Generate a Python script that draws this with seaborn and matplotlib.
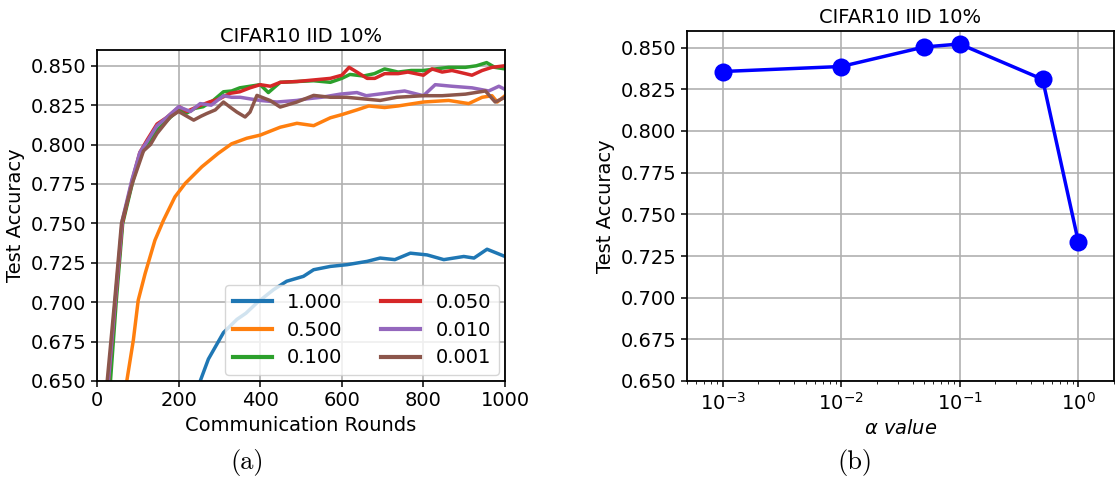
import matplotlib
matplotlib.use("Agg")
import matplotlib.pyplot as plt
import matplotlib.ticker as mticker
import pandas as pd
import seaborn as sns

# ---- accuracy curves per alpha (communication round, test accuracy) ----
alpha_labels = ["1.000", "0.500", "0.100", "0.050", "0.010", "0.001"]
line_colors = ["#1f77b4", "#ff7f0e", "#2ca02c", "#d62728", "#9467bd", "#8c564b"]

rounds_a1000 = [0, 200, 253, 273, 310, 343, 365, 392, 433, 465, 506, 531, 572, 613,
                662, 694, 730, 768, 809, 850, 899, 924, 956, 981, 1000]
acc_a1000 = [0.300, 0.600, 0.650, 0.6639, 0.6807, 0.6891, 0.6930, 0.6996, 0.7080, 0.7133,
             0.7164, 0.7206, 0.7227, 0.7238, 0.7259, 0.7280, 0.7270, 0.7311, 0.7300,
             0.7270, 0.7290, 0.7280, 0.7336, 0.7310, 0.7290]

rounds_a0500 = [0, 40, 60, 73, 89, 101, 118, 142, 163, 191, 216, 257, 297, 330, 367,
                400, 449, 490, 531, 572, 600, 637, 666, 705, 738, 800, 862, 911, 944,
                968, 981, 1000]
acc_a0500 = [0.300, 0.500, 0.600, 0.650, 0.6758, 0.7012, 0.7182, 0.7393, 0.7520, 0.7668,
             0.7753, 0.7859, 0.7944, 0.8005, 0.8040, 0.8060, 0.8110, 0.8135, 0.8120,
             0.8170, 0.8190, 0.8220, 0.8245, 0.8235, 0.8245, 0.8270, 0.8280, 0.8260,
             0.8300, 0.8310, 0.8270, 0.8310]

rounds_a0100 = [0, 15, 33, 47, 63, 88, 106, 126, 147, 170, 200, 220, 240, 260, 285,
                310, 330, 350, 375, 400, 420, 449, 490, 531, 572, 600, 620, 653, 680,
                705, 738, 770, 800, 830, 862, 903, 930, 955, 975, 1000]
acc_a0100 = [0.480, 0.580, 0.650, 0.700, 0.750, 0.777, 0.793, 0.801, 0.809, 0.815,
             0.822, 0.820, 0.823, 0.824, 0.828, 0.8335, 0.834, 0.836, 0.837, 0.838,
             0.833, 0.8395, 0.840, 0.8405, 0.8395, 0.842, 0.8445, 0.8435, 0.845,
             0.848, 0.846, 0.847, 0.847, 0.848, 0.849, 0.849, 0.850, 0.852, 0.849, 0.848]

rounds_a0050 = [0, 15, 28, 45, 62, 86, 105, 123, 147, 170, 202, 220, 237, 255, 275,
                300, 326, 350, 375, 400, 425, 449, 490, 531, 572, 600, 618, 637, 662,
                681, 705, 738, 762, 800, 821, 846, 870, 903, 919, 944, 968, 1000]
acc_a0050 = [0.500, 0.600, 0.650, 0.700, 0.750, 0.777, 0.795, 0.803, 0.813, 0.817,
             0.824, 0.821, 0.823, 0.825, 0.827, 0.829, 0.8325, 0.8335, 0.836, 0.838,
             0.837, 0.8395, 0.840, 0.841, 0.842, 0.844, 0.849, 0.846, 0.842, 0.842,
             0.845, 0.845, 0.846, 0.844, 0.848, 0.846, 0.847, 0.845, 0.844, 0.847,
             0.849, 0.850]

rounds_a0010 = [0, 15, 28, 45, 62, 86, 105, 123, 147, 170, 200, 229, 253, 280, 310,
                330, 351, 375, 400, 441, 490, 514, 550, 596, 637, 660, 705, 754, 800,
                829, 870, 919, 960, 985, 1000]
acc_a0010 = [0.500, 0.600, 0.650, 0.702, 0.752, 0.778, 0.795, 0.802, 0.812, 0.817,
             0.824, 0.821, 0.826, 0.825, 0.831, 0.830, 0.830, 0.829, 0.828, 0.827,
             0.828, 0.829, 0.830, 0.832, 0.833, 0.831, 0.8325, 0.834, 0.831, 0.838,
             0.837, 0.836, 0.834, 0.837, 0.835]

rounds_a0001 = [0, 14, 25, 43, 60, 86, 114, 131, 147, 180, 200, 220, 237, 255, 269,
                290, 310, 326, 343, 363, 375, 392, 424, 449, 490, 531, 572, 612, 653,
                694, 735, 800, 846, 903, 952, 976, 1000]
acc_a0001 = [0.500, 0.600, 0.650, 0.700, 0.750, 0.775, 0.796, 0.800, 0.807, 0.8176,
             0.821, 0.818, 0.8155, 0.818, 0.8197, 0.822, 0.827, 0.8238, 0.8206, 0.8175,
             0.8206, 0.8312, 0.828, 0.8238, 0.827, 0.8312, 0.830, 0.830, 0.829, 0.828,
             0.830, 0.831, 0.831, 0.832, 0.834, 0.827, 0.830]

# ---- final accuracy against alpha ----
alpha_values = [0.001, 0.01, 0.05, 0.1, 0.5, 1.0]
final_acc = [0.8357, 0.8387, 0.8504, 0.8522, 0.8310, 0.7336]

y_ticks = [0.650, 0.675, 0.700, 0.725, 0.750, 0.775, 0.800, 0.825, 0.850]
round_ticks = [0, 200, 400, 600, 800, 1000]

series = {
    "1.000": (rounds_a1000, acc_a1000),
    "0.500": (rounds_a0500, acc_a0500),
    "0.100": (rounds_a0100, acc_a0100),
    "0.050": (rounds_a0050, acc_a0050),
    "0.010": (rounds_a0010, acc_a0010),
    "0.001": (rounds_a0001, acc_a0001),
}
curves = pd.concat(
    [pd.DataFrame({"round": r, "acc": a, "alpha": lab}) for lab, (r, a) in series.items()],
    ignore_index=True,
)

FS = 14
plt.rcParams["font.family"] = ["DejaVu Sans"]
plt.rcParams["axes.linewidth"] = 1.3

fig = plt.figure(figsize=(11.16, 4.8), dpi=100)
W, H = 1116, 480


def px_axes(left, top, right, bottom):
    return fig.add_axes([left / W, 1 - bottom / H, (right - left) / W, (bottom - top) / H])


def style_axes(ax):
    ax.grid(True, color="#b0b0b0", linewidth=1.2)
    ax.set_axisbelow(True)
    ax.tick_params(labelsize=FS, width=1.1, length=4)
    ax.set_ylim(0.65, 0.86)
    ax.set_yticks(y_ticks)
    ax.yaxis.set_major_formatter(mticker.FormatStrFormatter("%.3f"))
    ax.set_ylabel("Test Accuracy", fontsize=FS)
    ax.set_title("CIFAR10 IID 10%", fontsize=FS, pad=6)


# (a) accuracy over communication rounds
ax1 = px_axes(97, 50, 505, 381)
sns.lineplot(data=curves, x="round", y="acc", hue="alpha", hue_order=alpha_labels,
             palette=line_colors, estimator=None, sort=False, linewidth=2.5, ax=ax1)
ax1.set_xlim(0, 1000)
ax1.set_xticks(round_ticks)
ax1.set_xlabel("Communication Rounds", fontsize=FS)
style_axes(ax1)
leg = ax1.legend(loc="lower right", ncol=2, fontsize=FS, borderaxespad=0.3,
                 handlelength=2.0, columnspacing=2.0, labelspacing=0.45)
for h in leg.get_lines():
    h.set_linewidth(3)

# (b) final accuracy against alpha
ax2 = px_axes(687, 31, 1114, 381)
ax2.set_xscale("log")
sns.lineplot(x=alpha_values, y=final_acc, color="blue", linewidth=2.5, marker="o",
             markersize=13, markeredgecolor="blue", markeredgewidth=0, ax=ax2)
ax2.set_xlim(5e-4, 2.0)
ax2.set_xticks([1e-3, 1e-2, 1e-1, 1e0])
ax2.set_xlabel(r"$\alpha$ value", fontsize=FS, style="italic")
style_axes(ax2)
ax2.grid(False, which="minor")

fig.text(247 / W, 1 - 463 / H, "(a)", fontsize=19, family="cmr10", ha="center", va="center")
fig.text(855 / W, 1 - 463 / H, "(b)", fontsize=19, family="cmr10", ha="center", va="center")

fig.savefig("out.png", dpi=100)
